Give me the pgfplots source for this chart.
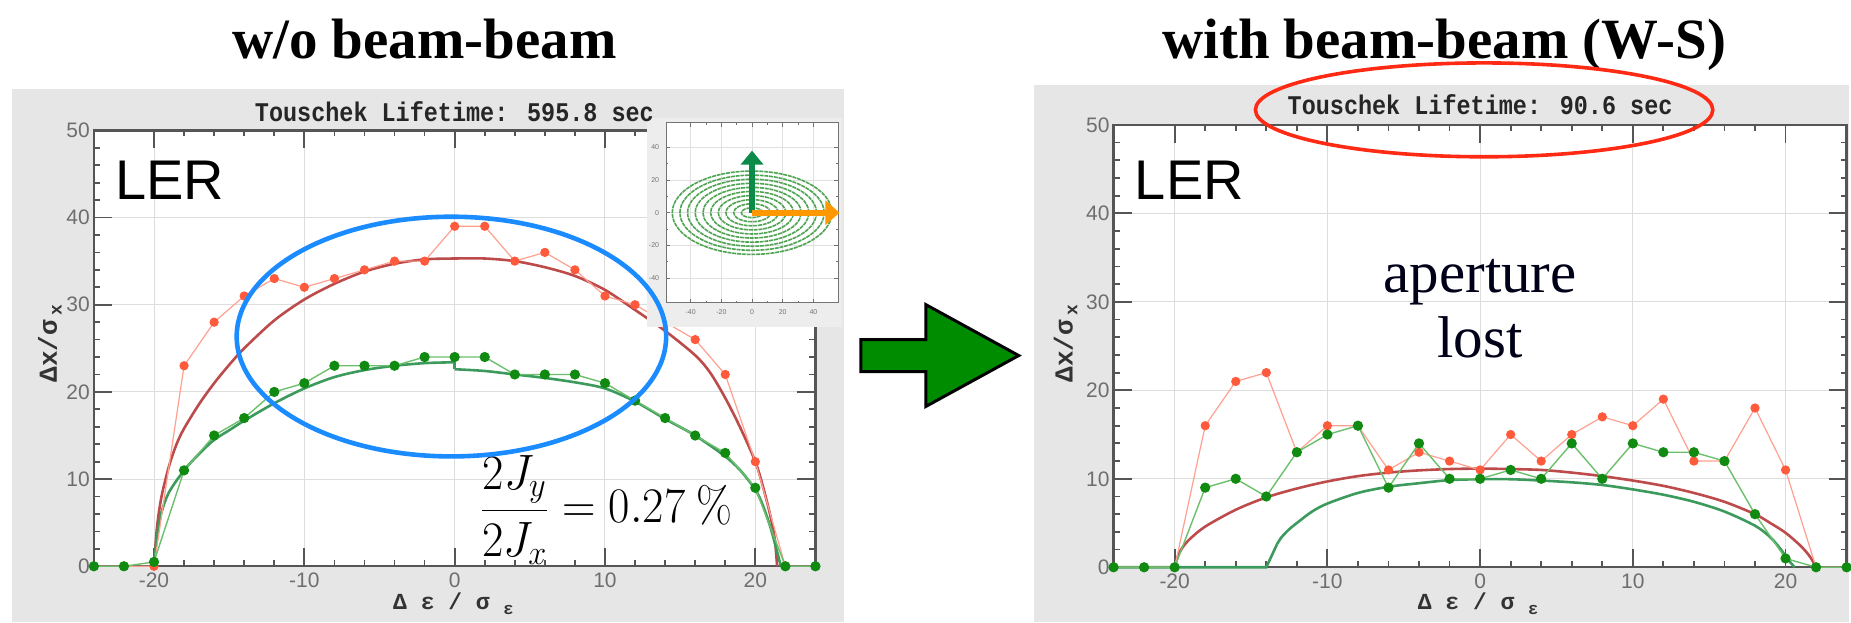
\documentclass[border=0pt]{standalone}
\usepackage[no-math]{fontspec}
\setmainfont{Liberation Serif}
\newfontfamily\sansf{Liberation Sans}
\newfontfamily\monof{Liberation Mono}
\usepackage{pgfplots}
\usepackage{pgfplotstable}
\pgfplotsset{compat=1.18}
\usetikzlibrary{arrows.meta}

\definecolor{panelgray}{HTML}{E6E6E6}
\definecolor{insetbg}{HTML}{EDEDED}
\definecolor{axgray}{HTML}{555555}
\definecolor{tickgray}{HTML}{6E6E6E}
\definecolor{gridgray}{HTML}{DDDDDD}
\definecolor{ptred}{HTML}{FF5A3C}
\definecolor{lnred}{HTML}{FFA090}
\definecolor{ptgreen}{HTML}{108A10}
\definecolor{lngreen}{HTML}{6CBF6C}
\definecolor{curvered}{HTML}{BE4B4B}
\definecolor{curvegreen}{HTML}{3C9A5C}
\definecolor{ringblue}{HTML}{1A8CFF}
\definecolor{ringred}{HTML}{FF2A14}
\definecolor{arrowgreen}{HTML}{008C00}
\definecolor{insetgreen}{HTML}{4FA452}
\definecolor{insetarrowgreen}{HTML}{0C8A48}
\definecolor{insetorange}{HTML}{FF9800}

% tracked amplitude at each momentum offset: red = horizontal, green = with vertical action
\pgfplotstableread{
de  red green
-24 0   0
-22 0   0
-20 0   0.5
-18 23  11
-16 28  15
-14 31  17
-12 33  20
-10 32  21
-8  33  23
-6  34  23
-4  35  23
-2  35  24
0   39  24
2   39  24
4   35  22
6   36  22
8   34  22
10  31  21
12  30  19
14  28  17
16  26  15
18  22  13
20  12  9
22  0   0
24  0   0
}\noBB

\pgfplotstableread{
de  red green
-24 0   0
-22 0   0
-20 0   0
-18 16  9
-16 21  10
-14 22  8
-12 13  13
-10 16  15
-8  16  16
-6  11  9
-4  13  14
-2  12  10
0   11  10
2   15  11
4   12  10
6   15  14
8   17  10
10  16  14
12  19  13
14  12  13
16  12  12
18  18  6
20  11  1
22  0   0
24  0   0
}\withBB

\tikzset{ring/.style={insetgreen, line width=0.8pt, dash pattern=on 2pt off 0.4pt}}

\pgfplotsset{
  lerpanel/.style={
    scale only axis, anchor=south west,
    xmin=-24, xmax=24, ymin=0, ymax=50,
    axis background/.style={fill=white},
    xtick={-20,-10,0,10,20}, ytick={0,10,20,30,40,50},
    minor x tick num=4, minor y tick num=4,
    tick align=inside, major tick length=9pt, minor tick length=3pt,
    xmajorgrids, ymajorgrids, grid style={gridgray, line width=0.5pt},
    axis line style={axgray, line width=1.2pt},
    tick style={axgray, line width=0.9pt},
    tick label style={font=\sansf\fontsize{10.5}{12}\selectfont, text=tickgray},
    /pgf/number format/assume math mode=true,
    yticklabel style={xshift=1.5pt},
    clip=false,
  },
  redpts/.style={lnred, line width=0.6pt, mark=*, mark size=2pt,
    mark options={draw=ptred, fill=ptred}},
  greenpts/.style={lngreen, line width=0.7pt, mark=*, mark size=2.2pt,
    mark options={draw=ptgreen, fill=ptgreen}},
  theoryred/.style={curvered, line width=1.3pt, smooth, no marks},
  theorygreen/.style={curvegreen, line width=1.3pt, smooth, no marks},
}

\begin{document}
\begin{tikzpicture}
\begin{scope}[x=0.5pt,y=0.5pt]
  \useasboundingbox (0,0) rectangle (1851,623);
  \fill[panelgray] (12,0) rectangle (845,534);
  \fill[panelgray] (1035,0) rectangle (1851,538);
\end{scope}

% ---- without beam-beam ----
\begin{axis}[lerpanel, at={(47pt,28pt)}, width=361.25pt, height=218.25pt]
  \addplot[theoryred] coordinates {
    (-20,0) (-19.8,4.5) (-19.5,8) (-19,11.5) (-18.5,14) (-18,15.8) (-17,18.6)
    (-16,21) (-15,23.1) (-14,25) (-12,28.2) (-10,30.6) (-8,32.4) (-6,33.8)
    (-4,34.7) (-2,35.2) (0,35.3) (2,35.3) (4,35.0) (6,34.3) (8,33.3) (10,31.7)
    (12,29.4) (14,27.0) (16,24.2) (17,22.2) (18,19.3) (19,15.9) (20,12)
    (20.5,9.2) (21,5.8) (21.3,3) (21.45,0)};
  \addplot[theorygreen] coordinates {
    (-20,0) (-19.8,3.5) (-19.5,6.2) (-19,8.5) (-18,11) (-17,12.9) (-16,14.5)
    (-15,15.6) (-14,16.7) (-12,18.7) (-10,20.4) (-8,21.7) (-6,22.5) (-4,23.0)
    (-2,23.3) (0,23.4)};
  \addplot[curvegreen, line width=1.3pt, no marks] coordinates {(0,23.4) (0,22.6)};
  \addplot[theorygreen] coordinates {
    (0,22.6) (2,22.4) (4,22.0) (6,21.6) (8,21.1) (10,20.4) (12,18.9) (14,16.9)
    (16,15.0) (18,12.6) (19,11) (20,8.8) (20.5,7) (21,4.5) (21.4,2) (21.7,0)};
  \addplot[redpts] table[x=de, y=red] {\noBB};
  \addplot[greenpts] table[x=de, y=green] {\noBB};
\end{axis}

% phase-space inset
\begin{scope}[x=0.5pt,y=0.5pt]
  \fill[insetbg] (648,296) rectangle (843,505);
\end{scope}
\begin{axis}[at={(333.5pt,160pt)}, anchor=south west, scale only axis,
    width=86pt, height=90pt, xmin=-56, xmax=56, ymin=-55, ymax=55,
    xtick={-40,-20,0,20,40}, ytick={-40,-20,0,20,40}, minor tick num=1,
    tick align=inside, major tick length=2pt, minor tick length=1pt,
    tick style={black!55, line width=0.3pt},
    axis line style={black!55, line width=0.4pt},
    xmajorgrids, ymajorgrids, grid style={black!12, line width=0.3pt},
    tick label style={font=\sansf\fontsize{3.5}{4}\selectfont, text=black!55},
    /pgf/number format/assume math mode=true,
    axis background/.style={fill=white}, clip=false]
  \draw[ring] (axis cs:0,0) ellipse [x radius=52, y radius=25.5];
  \draw[ring] (axis cs:0,0) ellipse [x radius=47, y radius=23];
  \draw[ring] (axis cs:0,0) ellipse [x radius=42, y radius=20.5];
  \draw[ring] (axis cs:0,0) ellipse [x radius=37, y radius=18];
  \draw[ring] (axis cs:0,0) ellipse [x radius=32, y radius=15.5];
  \draw[ring] (axis cs:0,0) ellipse [x radius=27, y radius=13];
  \draw[ring] (axis cs:0,0) ellipse [x radius=22, y radius=10.5];
  \draw[ring] (axis cs:0,0) ellipse [x radius=17, y radius=8];
  \draw[ring] (axis cs:0,0) ellipse [x radius=12, y radius=5.5];
  \draw[ring] (axis cs:0,0) ellipse [x radius=7, y radius=3];
  \draw[insetarrowgreen, line width=3pt, -{Triangle[length=7pt,width=11pt]}] (axis cs:0,0) -- (axis cs:0,38);
  \draw[insetorange, line width=2.8pt, -{Triangle[length=7pt,width=12pt]}] (axis cs:0,0) -- (axis cs:57,0);
\end{axis}

% ---- with beam-beam ----
\begin{axis}[lerpanel, at={(557.5pt,27.5pt)}, width=367pt, height=221.5pt]
  \addplot[theoryred] coordinates {
    (-20,0) (-19.8,1.2) (-19.5,2.2) (-19,3.2) (-18,4.6) (-16,6.5) (-14,7.9)
    (-12,8.9) (-10,9.7) (-8,10.3) (-6,10.7) (-4,10.95) (-2,11.1) (0,11.15)
    (2,11.1) (4,11.0) (6,10.7) (8,10.3) (10,9.8) (12,9.2) (14,8.4) (16,7.4)
    (18,6.0) (19,5.0) (20,3.9) (21,2.4) (21.6,1.2) (22,0)};
  \addplot[curvegreen, line width=1.3pt, no marks] coordinates {(-24,0) (-14,0) (-13.3,2.6)};
  \addplot[theorygreen] coordinates {
    (-13.3,2.6) (-13,3.4) (-12.5,4.3) (-12,5.0) (-11,6.3) (-10,7.2) (-8,8.4)
    (-6,9.1) (-4,9.5) (-2,9.85) (0,9.95) (2,9.95) (4,9.8) (6,9.6) (8,9.3)
    (10,8.8) (12,8.2) (14,7.4) (16,6.3) (18,4.7) (19,3.4) (19.7,2) (20.2,0.8)
    (20.6,0)};
  \addplot[redpts] table[x=de, y=red] {\withBB};
  \addplot[greenpts] table[x=de, y=green] {\withBB};
\end{axis}

\begin{scope}[x=0.5pt,y=0.5pt]
  % panel titles
  \node[anchor=base, inner sep=0pt, font=\fontsize{28.5}{30}\selectfont\bfseries] at (425,564) {w/o beam-beam};
  \node[anchor=base, inner sep=0pt, font=\fontsize{28.5}{30}\selectfont\bfseries] at (1446,564) {with beam-beam (W-S)};
  % lifetime headers
  \node[anchor=base, inner sep=0pt, xscale=0.87, text=black!85, font=\monof\bfseries\fontsize{13.5}{15}\selectfont] at (455,501) {Touschek Lifetime: 595.8 sec};
  \node[anchor=base, inner sep=0pt, xscale=0.87, text=black!85, font=\monof\bfseries\fontsize{13.5}{15}\selectfont] at (1482,508) {Touschek Lifetime: 90.6 sec};
  % axis titles
  \foreach \xc in {50,1067} {
    \node[rotate=90, inner sep=0pt, text=black!80, font=\monof\bfseries\fontsize{13}{15}\selectfont] at (\xc,279)
      {Δx/σ\,\raisebox{-0.35ex}{\fontsize{9}{10}\selectfont x}};
  }
  \foreach \xc in {454,1480} {
    \node[anchor=base, inner sep=0pt, text=black!80, font=\monof\bfseries\fontsize{11.5}{13}\selectfont] at (\xc,13)
      {Δ ε / σ \raisebox{-0.45ex}{\fontsize{8.5}{10}\selectfont ε}};
  }
  % ring labels
  \node[anchor=base west, inner sep=0pt, font=\sansf\fontsize{28}{30}\selectfont] at (115,423) {LER};
  \node[anchor=base west, inner sep=0pt, font=\sansf\fontsize{28}{30}\selectfont] at (1136,423) {LER};
  % coupling ratio
  \node[anchor=base west, inner sep=0pt, xscale=0.935, font=\fontsize{23}{27}\selectfont] at (480,99.5)
    {$\displaystyle\frac{2J_y}{2J_x} = 0.27\ \%$};
  % lost aperture note
  \node[anchor=base, inner sep=0pt, text=black!90!blue, font=\fontsize{29.5}{32}\selectfont] at (1482,330) {aperture};
  \node[anchor=base, inner sep=0pt, text=black!90!blue, font=\fontsize{29.5}{32}\selectfont] at (1482,265) {lost};
  % highlight rings
  \draw[ringblue, line width=2.3pt] (452,286) ellipse [x radius=215, y radius=120];
  \draw[ringred, line width=1.8pt] (1486,513) ellipse [x radius=229, y radius=47];
  % transition arrow
  \filldraw[fill=arrowgreen, draw=black, line width=1.5pt, line join=miter]
    (862,283) -- (927,283) -- (927,318) -- (1020,267) -- (927,216) -- (927,251) -- (862,251) -- cycle;
\end{scope}
\end{tikzpicture}
\end{document}
